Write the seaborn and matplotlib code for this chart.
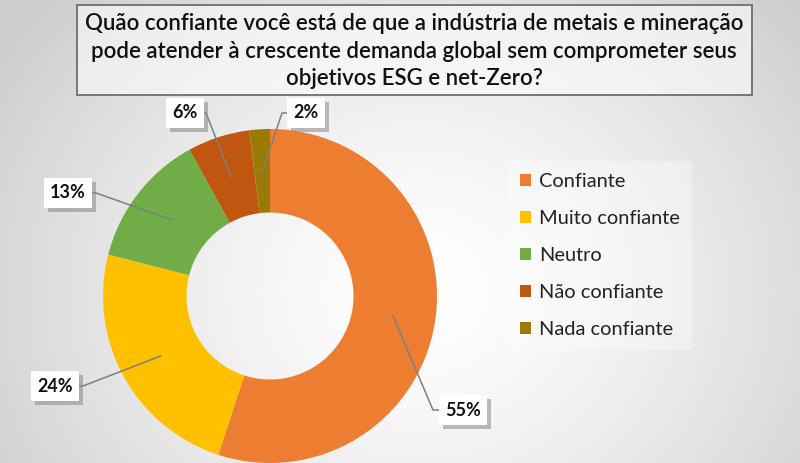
import numpy as np
import matplotlib
matplotlib.use("Agg")
import matplotlib.pyplot as plt
import matplotlib.patheffects as pe
from matplotlib.patches import Rectangle
import seaborn as sns

# ---- data ----
categories = ["Confiante", "Muito confiante", "Neutro", "Não confiante", "Nada confiante"]
values = [55, 24, 13, 6, 2]
value_labels = ["55%", "24%", "13%", "6%", "2%"]
colors = ["#ED7D31", "#FFC000", "#70AD47", "#C0560F", "#9C7A05"]
title = ("Quão confiante você está de que a indústria de metais e mineração\n"
         "pode atender à crescente demanda global sem comprometer seus\n"
         "objetivos ESG e net-Zero?")

sns.set_theme(style="white")
plt.rcParams['font.family'] = ['Lato', 'DejaVu Sans']

W, H = 800, 463
fig = plt.figure(figsize=(W / 100, H / 100), dpi=100)

# background radial gradient
bg = fig.add_axes([0, 0, 1, 1], zorder=0)
yy, xx = np.mgrid[0:H, 0:W]
d = np.sqrt(((xx - 420) / 1.15) ** 2 + (yy - 290) ** 2)
t = np.clip(d / 430, 0, 1)
shade = 1.0 - 0.19 * t ** 1.4
img = np.dstack([shade, shade, shade])
bg.imshow(img, extent=[0, W, H, 0], aspect='auto')
bg.set_xlim(0, W)
bg.set_ylim(H, 0)
bg.axis('off')

# title box
bg.add_patch(Rectangle((77, 5), 675, 90, facecolor='white', alpha=0.55,
                       edgecolor='none', zorder=1))
bg.add_patch(Rectangle((77, 5), 675, 90, facecolor='none',
                       edgecolor='#6e6e6e', lw=1.3, zorder=2))
bg.text(414, 51, title, ha='center', va='center', fontsize=16.0,
        fontweight='semibold', color='#111111', linespacing=1.38, zorder=3)

# donut
cx, cy, R = 270, 296, 167
ax = fig.add_axes([(cx - R) / W, (H - cy - R) / H, 2 * R / W, 2 * R / H], zorder=2)
wedges, _ = ax.pie(values, colors=colors, startangle=90, counterclock=False,
                   radius=1.0, wedgeprops=dict(width=0.5, edgecolor='none'))
ax.set_xlim(-1, 1)
ax.set_ylim(-1, 1)
ax.set_aspect('equal')
ax.axis('off')

# data labels (box centres in pixels, side of box where leader attaches)
label_pos = [(463, 410, 'left'), (55, 386, 'right'), (68, 193, 'right'),
             (185, 113, 'right'), (306, 113, 'left')]
half_w = [22, 22, 22, 15, 16]

def to_data(px, py):
    return (px - cx) / R, (cy - py) / R

for w, lab, (px, py, side), hw in zip(wedges, value_labels, label_pos, half_w):
    ang = np.deg2rad((w.theta1 + w.theta2) / 2)
    ex, ey = 0.745 * np.cos(ang), 0.745 * np.sin(ang)
    if side == 'left':
        sx = px - hw
        kx = sx - 8
    else:
        sx = px + hw
        kx = sx + 6
    x0, y0 = to_data(sx, py)
    x1, _ = to_data(kx, py)
    ax.plot([x0, x1, ex], [y0, y0, ey], color='#7f7f7f', lw=1.1,
            clip_on=False, zorder=3)
    tx, ty = to_data(px, py)
    t = ax.text(tx, ty, lab, ha='center', va='center', fontsize=13,
                fontweight='bold', color='#111111', zorder=5,
                bbox=dict(boxstyle='square,pad=0.35', facecolor='white',
                          edgecolor='none'))
    t.get_bbox_patch().set_path_effects([
        pe.SimplePatchShadow(offset=(3, -3), shadow_rgbFace='#888888', alpha=0.55),
        pe.Normal()])

# legend
handles = [Rectangle((0, 0), 1, 1, facecolor=c, edgecolor='none') for c in colors]
leg = fig.legend(handles, categories, loc='upper left',
                 bbox_to_anchor=(498 / W, 1 - 151 / H), frameon=True,
                 fontsize=14.4, labelspacing=1.0, handlelength=0.55,
                 handleheight=0.55, handletextpad=0.4, borderpad=0.6)
leg.get_frame().set_facecolor('white')
leg.get_frame().set_alpha(0.35)
leg.get_frame().set_edgecolor('none')
for txt in leg.get_texts():
    txt.set_color('#222222')

fig.savefig("out.png", dpi=100)
